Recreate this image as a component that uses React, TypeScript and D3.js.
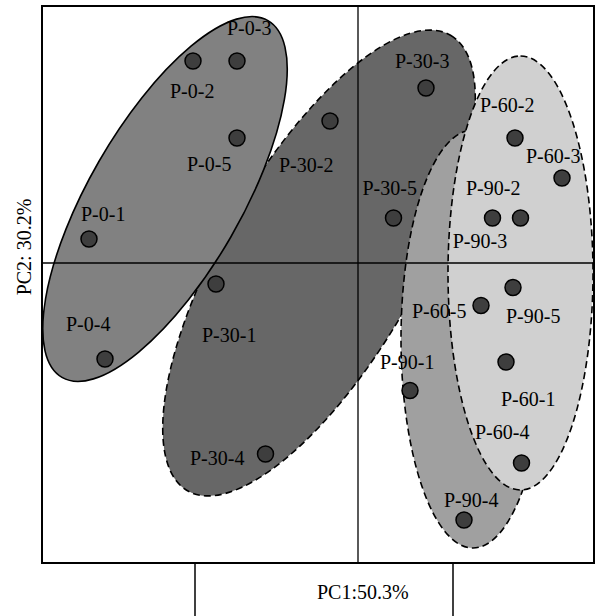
import React from "react";
import * as d3 from "d3";

// PCA scores (PC1, PC2)
const sampleNames = [
  "P-0-1", "P-0-2", "P-0-3", "P-0-4", "P-0-5",
  "P-30-1", "P-30-2", "P-30-3", "P-30-4", "P-30-5",
  "P-60-1", "P-60-2", "P-60-3", "P-60-4", "P-60-5",
  "P-90-1", "P-90-2", "P-90-3", "P-90-4", "P-90-5",
];
const pc1Values = [
  -0.269, -0.165, -0.121, -0.253, -0.121,
  -0.142, -0.028, 0.068, -0.0925, 0.0355,
  0.148, 0.157, 0.204, 0.1635, 0.123,
  0.052, 0.1345, 0.1625, 0.106, 0.155,
];
const pc2Values = [
  0.024, 0.202, 0.202, -0.096, 0.125,
  -0.021, 0.142, 0.175, -0.191, 0.045,
  -0.099, 0.125, 0.085, -0.2, -0.0425,
  -0.1275, 0.045, 0.045, -0.257, -0.0245,
];
// label offsets (px) from each point: [dx to text start, dy to baseline]
const labelDx = [
  -8, -23, -10, -39, -50,
  -14, -51, -31, -75.5, -31,
  -5, -35, -36, -46.5, -69,
  -30, -26.5, -67.8, -20, -7,
];
const labelDy = [
  -18, 37, -26, -28, 33,
  58, 51, -20, 11, -23,
  44, -26, -15, -24, 12,
  -21.5, -23, 30, -13, 35,
];

// Group confidence ellipses (data units): centre, semi-axes, angle (deg)
const ellipseGroups = ["P-30", "P-0", "P-90", "P-60"];
const ellipseCx = [-0.039, -0.193, 0.115, 0.1625];
const ellipseCy = [0.0, 0.064, -0.076, -0.01];
const ellipseA = [0.263, 0.206, 0.209, 0.217];
const ellipseB = [0.0975, 0.076, 0.072, 0.0725];
const ellipseAngle = [60, 60, 90, 90];
const ellipseFill = ["#676767", "#818181", "#a0a0a0", "#d0d0d0"];
const ellipseDashed = [true, false, true, true];

const xDomain = [-0.316, 0.236];
const yDomain = [-0.3, 0.257];
const xLabel = "PC1:50.3%";
const yLabel = "PC2: 30.2%";

const W = 602;
const H = 616;
const plot = { left: 42, top: 6, right: 594, bottom: 563 };
const FONT = "'Liberation Serif', 'Times New Roman', serif";

export default function App() {
  const x = d3.scaleLinear().domain(xDomain).range([plot.left, plot.right]);
  const y = d3.scaleLinear().domain(yDomain).range([plot.bottom, plot.top]);
  const kx = (plot.right - plot.left) / (xDomain[1] - xDomain[0]);

  const ellipses = ellipseGroups.map((g, i) => ({
    g,
    cx: x(ellipseCx[i]),
    cy: y(ellipseCy[i]),
    rx: ellipseA[i] * kx,
    ry: ellipseB[i] * kx,
    angle: ellipseAngle[i],
    fill: ellipseFill[i],
    dashed: ellipseDashed[i],
  }));

  const pts = sampleNames.map((n, i) => ({
    n,
    px: x(pc1Values[i]),
    py: y(pc2Values[i]),
    dx: labelDx[i],
    dy: labelDy[i],
  }));

  return (
    <svg
      width={W}
      height={H}
      style={{ position: "absolute", left: 0, top: 0, background: "#fff" }}
      fontFamily={FONT}
    >
      <rect x={0} y={0} width={W} height={H} fill="#fff" />
      <defs>
        <clipPath id="plotclip">
          <rect x={plot.left} y={plot.top} width={plot.right - plot.left} height={plot.bottom - plot.top} />
        </clipPath>
      </defs>
      <g clipPath="url(#plotclip)">
        {ellipses.map((e) => (
          <ellipse
            key={e.g}
            cx={0}
            cy={0}
            rx={e.rx}
            ry={e.ry}
            transform={`translate(${e.cx},${e.cy}) rotate(${-e.angle})`}
            fill={e.fill}
            stroke="#000"
            strokeWidth={1.6}
            strokeDasharray={e.dashed ? "7,4" : undefined}
          />
        ))}
      </g>
      {/* zero lines */}
      <line x1={x(0)} x2={x(0)} y1={plot.top} y2={plot.bottom} stroke="#000" strokeWidth={1.3} />
      <line x1={plot.left} x2={plot.right} y1={y(0)} y2={y(0)} stroke="#000" strokeWidth={1.3} />
      {/* frame */}
      <rect
        x={plot.left}
        y={plot.top}
        width={plot.right - plot.left}
        height={plot.bottom - plot.top}
        fill="none"
        stroke="#000"
        strokeWidth={2}
      />
      {/* lines below frame */}
      <line x1={x(-0.163)} x2={x(-0.163)} y1={plot.bottom} y2={H} stroke="#000" strokeWidth={1.5} />
      <line x1={x(0.095)} x2={x(0.095)} y1={plot.bottom} y2={H} stroke="#000" strokeWidth={1.5} />
      {/* points */}
      {pts.map((p) => (
        <circle key={p.n} cx={p.px} cy={p.py} r={8} fill="#3e3e3e" stroke="#000" strokeWidth={1.5} />
      ))}
      {pts.map((p) => (
        <text key={p.n + "t"} x={p.px + p.dx} y={p.py + p.dy} fontSize={20} fill="#000">
          {p.n}
        </text>
      ))}
      <text x={317} y={599} fontSize={20} fill="#000">
        {xLabel}
      </text>
      <text
        transform={`translate(31,247) rotate(-90)`}
        textAnchor="middle"
        fontSize={20}
        fill="#000"
      >
        {yLabel}
      </text>
    </svg>
  );
}
